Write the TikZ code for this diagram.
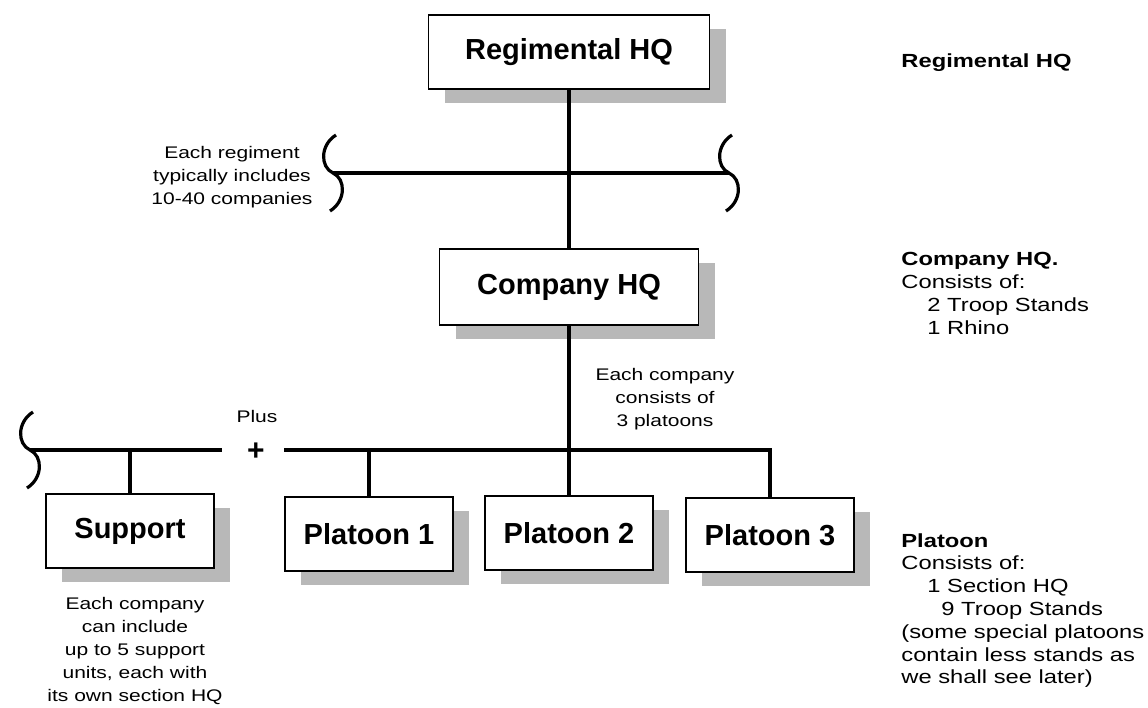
\documentclass[tikz,border=0pt]{standalone}
\usepackage{fontspec}
\setmainfont{Liberation Sans}
\newfontfamily\notefont[FakeStretch=1.25]{Liberation Sans}
\usetikzlibrary{shadows}

\begin{document}
\begin{tikzpicture}[x=0.5pt,y=-0.5pt,
  unit/.style={draw,line width=0.8pt,fill=white,inner sep=0pt,
    minimum width=84pt,minimum height=37pt,
    font=\fontsize{14.5}{17}\selectfont\bfseries,
    drop shadow={shadow xshift=8pt,shadow yshift=-7pt,fill=black!28,opacity=1}},
  link/.style={line width=2.2pt},
  note/.style={align=center,inner sep=0pt,font=\fontsize{8.4}{11.6}\notefont},
  side/.style={align=left,anchor=north west,inner sep=0pt,font=\fontsize{9.5}{11.4}\notefont},
  breakmark/.pic={\draw[line width=1.6pt] (3,-38) .. controls (-13,-28) and (-13,-6) .. (0,0)
      .. controls (13,6) and (13,28) .. (-3,38);}]
\useasboundingbox (0,0) rectangle (1148,708);

% the units
\node[unit,minimum width=140.5pt] (reg) at (569,52) {Regimental HQ};
\node[unit,minimum width=129.5pt,minimum height=38pt] (co) at (569,287) {Company HQ};
\node[unit] (sup) at (130,531) {Support};
\node[unit] (p1) at (369,534) {Platoon 1};
\node[unit] (p2) at (569,533) {Platoon 2};
\node[unit] (p3) at (770,535) {Platoon 3};

% bus lines
\coordinate (regL) at (333,173);
\coordinate (regR) at (729,173);
\coordinate (supL) at (30,450);
\coordinate (supR) at (222,450);
\coordinate (busL) at (284,450);
\coordinate (busR) at (770,450);

\draw[link] (regL) -- (regR);
\draw[link] (reg) -- (co);
\draw[link] (co) -- (p2);
\draw[link] (busL) -- (busR) -- (p3);
\draw[link] (p1.north) -- (p1.north |- busL);
\draw[link] (supL) -- (supR);
\draw[link] (sup.north) -- (sup.north |- supL);
\pic at (regL) {breakmark};
\pic at (regR) {breakmark};
\pic at (supL) {breakmark};

\node[font=\fontsize{15}{15}\selectfont\bfseries] (plus) at (256,452) {+};
\node[note] (plustext) at (257,416) {Plus};

% notes
\node[note] (regnote) at (232,177) {Each regiment\\typically includes\\10-40 companies};
\node[note] (conote) at (665,399) {Each company\\consists of\\3 platoons};
\node[note] (supnote) at (135,651) {Each company\\can include\\up to 5 support\\units, each with\\its own section HQ};

% key on the right
\node[side,anchor=base west] (regkey) at (901,67) {\bfseries Regimental HQ};
\node[side] (cokey) at (901,252) {\textbf{Company HQ.}\\Consists of:\\\hspace*{13pt}2 Troop Stands\\\hspace*{13pt}1 Rhino};
\node[side] (plkey) at (901,533) {\textbf{Platoon}\\Consists of:\\\hspace*{13pt}1 Section HQ\\\hspace*{20pt}9 Troop Stands\\(some special platoons\\contain less stands as\\we shall see later)};
\end{tikzpicture}
\end{document}
